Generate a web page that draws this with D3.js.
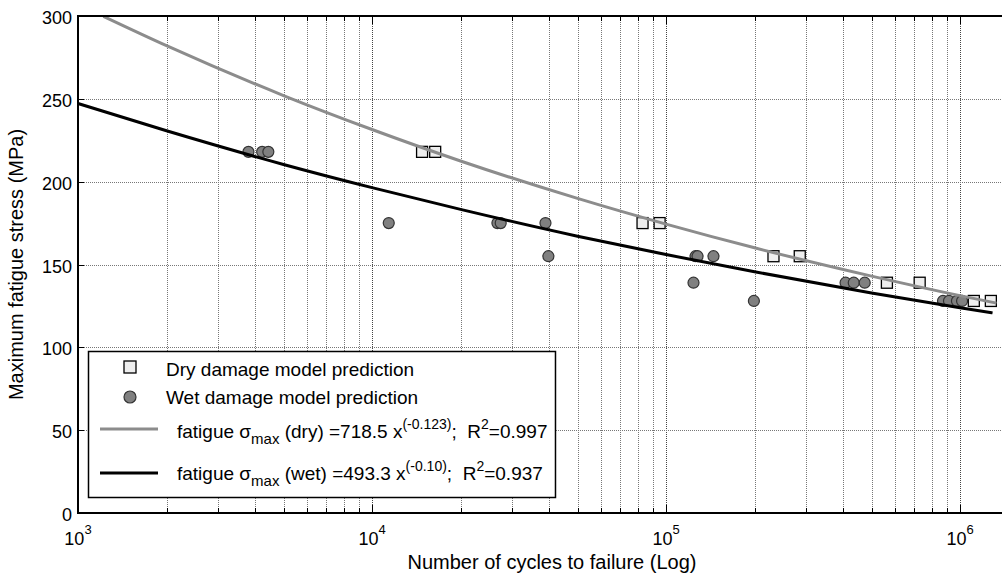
<!DOCTYPE html>
<html>
<head>
<meta charset="utf-8">
<script src="https://cdn.jsdelivr.net/npm/d3@7"></script>
<style>
  body { margin: 0; background: #fff; }
  text { font-family: "Liberation Sans", Arial, Helvetica, sans-serif; fill: #000; }
</style>
</head>
<body>
<div id="chart"></div>
<script>
// measured points (cycles to failure, max stress MPa)
var dryCycles = [14800, 16400, 83200, 95100, 232000, 285000, 564000, 729000, 1114000, 1273000];
var dryStress = [218, 218, 175, 175, 155, 155, 139, 139, 128, 128];

var wetCycles = [3800, 4230, 4440, 11400, 26700, 27400, 38900, 39800, 124000, 126000,
                 128000, 145000, 199000, 408000, 435000, 474000, 875000, 917000, 976000, 1016000];
var wetStress = [218, 218, 218, 175, 175, 175, 175, 155, 139, 155,
                 155, 155, 128, 139, 139, 139, 128, 128, 128, 128];

// fitted curves
var dryFitX = [1220, 2000, 5000, 10000, 20000, 50000, 100000, 200000, 500000, 1000000, 1330000];
var dryFitY = [299.8, 282.1, 252.0, 231.5, 212.5, 189.9, 174.4, 160.1, 143.0, 131.2, 126.7];
var wetFitX = [1000, 2000, 5000, 10000, 20000, 50000, 100000, 200000, 500000, 1000000, 1290000];
var wetFitY = [247.2, 230.7, 210.4, 196.4, 183.3, 167.1, 156.0, 145.6, 132.8, 123.9, 120.8];

var yTicks = [0, 50, 100, 150, 200, 250, 300];
var xMajor = [1e3, 1e4, 1e5, 1e6];

var legendLabels = ["Dry damage model prediction", "Wet damage model prediction"];

var width = 1002, height = 575;
var margin = { left: 78, top: 16, right: 1003, bottom: 513 };

var svg = d3.select("#chart").append("svg")
    .attr("width", width)
    .attr("height", height);

var x = d3.scaleLog().domain([1e3, 1.4e6]).range([margin.left, margin.right]);
var y = d3.scaleLinear().domain([0, 300]).range([margin.bottom, margin.top]);

// grid
var xAll = x.ticks();
svg.append("g").selectAll("line")
    .data(xAll)
    .enter().append("line")
    .attr("x1", function(d) { return Math.round(x(d)) + 0.5; })
    .attr("x2", function(d) { return Math.round(x(d)) + 0.5; })
    .attr("y1", margin.top)
    .attr("y2", margin.bottom)
    .attr("stroke", function(d) { return xMajor.indexOf(d) >= 0 ? "#444" : "#777"; })
    .attr("stroke-dasharray", "1,1");

svg.append("g").selectAll("line")
    .data(yTicks)
    .enter().append("line")
    .attr("x1", margin.left)
    .attr("x2", margin.right)
    .attr("y1", function(d) { return Math.round(y(d)) + 0.5; })
    .attr("y2", function(d) { return Math.round(y(d)) + 0.5; })
    .attr("stroke", "#777")
    .attr("stroke-dasharray", "1,1");

// tick marks (inside)
svg.append("g").selectAll("line")
    .data(xAll)
    .enter().append("line")
    .attr("x1", function(d) { return Math.round(x(d)) + 0.5; })
    .attr("x2", function(d) { return Math.round(x(d)) + 0.5; })
    .attr("y1", margin.bottom)
    .attr("y2", function(d) { return margin.bottom - (xMajor.indexOf(d) >= 0 ? 8 : 5); })
    .attr("stroke", "#000");
svg.append("g").selectAll("line")
    .data(xAll)
    .enter().append("line")
    .attr("x1", function(d) { return Math.round(x(d)) + 0.5; })
    .attr("x2", function(d) { return Math.round(x(d)) + 0.5; })
    .attr("y1", margin.top)
    .attr("y2", function(d) { return margin.top + (xMajor.indexOf(d) >= 0 ? 8 : 5); })
    .attr("stroke", "#000");
svg.append("g").selectAll("line")
    .data(yTicks)
    .enter().append("line")
    .attr("x1", margin.left)
    .attr("x2", margin.left + 6)
    .attr("y1", function(d) { return Math.round(y(d)) + 0.5; })
    .attr("y2", function(d) { return Math.round(y(d)) + 0.5; })
    .attr("stroke", "#000");

// markers
svg.append("g").selectAll("circle")
    .data(wetCycles)
    .enter().append("circle")
    .attr("cx", function(d) { return x(d); })
    .attr("cy", function(d, i) { return y(wetStress[i]); })
    .attr("r", 5.5)
    .attr("fill", "#808080")
    .attr("stroke", "#333")
    .attr("stroke-width", 1.2);

svg.append("g").selectAll("rect")
    .data(dryCycles)
    .enter().append("rect")
    .attr("x", function(d) { return x(d) - 5.5; })
    .attr("y", function(d, i) { return y(dryStress[i]) - 5.5; })
    .attr("width", 11)
    .attr("height", 11)
    .attr("fill", "#eeeeee")
    .attr("stroke", "#000")
    .attr("stroke-width", 1.3);

// fit curves
var line = d3.line()
    .x(function(d) { return x(d[0]); })
    .y(function(d) { return y(d[1]); })
    .curve(d3.curveMonotoneX);

svg.append("path")
    .attr("d", line(d3.zip(dryFitX, dryFitY)))
    .attr("fill", "none")
    .attr("stroke", "#8c8c8c")
    .attr("stroke-width", 3);
svg.append("path")
    .attr("d", line(d3.zip(wetFitX, wetFitY)))
    .attr("fill", "none")
    .attr("stroke", "#000")
    .attr("stroke-width", 3);

// axes frame
svg.append("line").attr("x1", margin.left).attr("x2", margin.left)
    .attr("y1", margin.top).attr("y2", margin.bottom + 1)
    .attr("stroke", "#000").attr("stroke-width", 2);
svg.append("line").attr("x1", margin.left - 1).attr("x2", margin.right)
    .attr("y1", margin.bottom).attr("y2", margin.bottom)
    .attr("stroke", "#000").attr("stroke-width", 2);
svg.append("line").attr("x1", margin.left - 1).attr("x2", margin.right)
    .attr("y1", margin.top).attr("y2", margin.top)
    .attr("stroke", "#000").attr("stroke-width", 2);

// tick labels
svg.append("g").selectAll("text")
    .data(yTicks)
    .enter().append("text")
    .attr("x", margin.left - 6)
    .attr("y", function(d) { return y(d) + 8; })
    .attr("text-anchor", "end")
    .style("font-size", "18px")
    .text(function(d) { return d; });

var xl = svg.append("g").selectAll("text")
    .data(xMajor)
    .enter().append("text")
    .attr("x", function(d) { return x(d); })
    .attr("y", 545)
    .attr("text-anchor", "middle")
    .style("font-size", "18px");
xl.append("tspan").text("10");
xl.append("tspan")
    .attr("dy", -11)
    .style("font-size", "13px")
    .text(function(d) { return Math.round(Math.log10(d)); });

// axis titles
svg.append("text")
    .attr("x", 552)
    .attr("y", 569)
    .attr("text-anchor", "middle")
    .style("font-size", "20px")
    .text("Number of cycles to failure (Log)");
svg.append("text")
    .attr("transform", "translate(23," + ((margin.top + margin.bottom) / 2) + ") rotate(-90)")
    .attr("text-anchor", "middle")
    .style("font-size", "20px")
    .text("Maximum fatigue stress (MPa)");

// legend
var lg = svg.append("g");
var box = lg.append("rect")
    .attr("x", 88.5).attr("y", 351.5)
    .attr("height", 146)
    .attr("fill", "#fff")
    .attr("stroke", "#000")
    .attr("stroke-width", 1.5);

lg.append("rect").attr("x", 124).attr("y", 361).attr("width", 12).attr("height", 12)
    .attr("fill", "#eeeeee").attr("stroke", "#000").attr("stroke-width", 1.3);
lg.append("circle").attr("cx", 130).attr("cy", 397).attr("r", 6)
    .attr("fill", "#808080").attr("stroke", "#333").attr("stroke-width", 1.2);
lg.append("line").attr("x1", 100).attr("x2", 158).attr("y1", 429).attr("y2", 429)
    .attr("stroke", "#8c8c8c").attr("stroke-width", 3);
lg.append("line").attr("x1", 100).attr("x2", 158).attr("y1", 473).attr("y2", 473)
    .attr("stroke", "#000").attr("stroke-width", 3);

lg.selectAll("text.lab")
    .data(legendLabels)
    .enter().append("text")
    .attr("class", "lab")
    .attr("x", 166)
    .attr("y", function(d, i) { return 376 + i * 28; })
    .style("font-size", "19px")
    .text(function(d) { return d; });

var eqs = [
    { kind: "dry", coef: "718.5", exp: "(-0.123)", r2: "0.997", y: 438 },
    { kind: "wet", coef: "493.3", exp: "(-0.10)", r2: "0.937", y: 480 }
];
var ends = [];
eqs.forEach(function(e) {
    var t = lg.append("text").attr("x", 177).attr("y", e.y).style("font-size", "19px");
    t.append("tspan").text("fatigue \u03c3");
    t.append("tspan").attr("dy", 6).style("font-size", "15px").text("max");
    t.append("tspan").attr("dy", -6).text(" (" + e.kind + ") =" + e.coef + " x");
    t.append("tspan").attr("dy", -9).style("font-size", "14px").text(e.exp);
    t.append("tspan").attr("dy", 9).text(";\u00a0\u00a0R");
    t.append("tspan").attr("dy", -9).style("font-size", "14px").text("2");
    t.append("tspan").attr("dy", 9).text("=" + e.r2);
    ends.push(177 + t.node().getComputedTextLength());
});
box.attr("width", d3.max(ends) + 8 - 88.5);
</script>
</body>
</html>
